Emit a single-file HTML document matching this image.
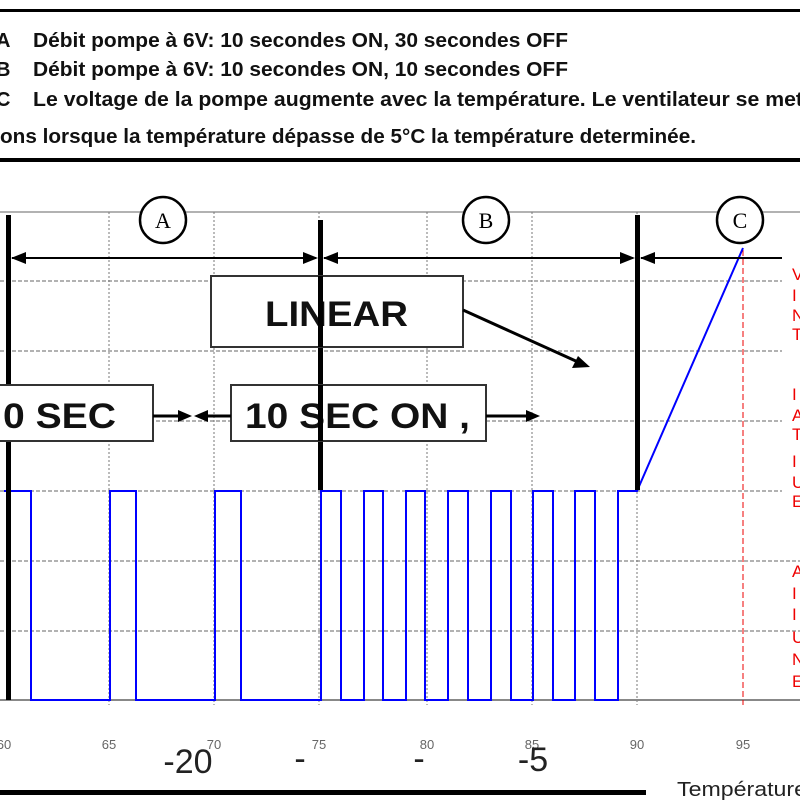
<!DOCTYPE html>
<html><head><meta charset="utf-8"><style>
html,body{margin:0;padding:0;background:#fff;}
svg{display:block;}
</style></head><body>
<svg width="800" height="800" xmlns="http://www.w3.org/2000/svg" font-family="Liberation Sans, sans-serif">
<rect width="800" height="800" fill="#fff"/>
<!-- header -->
<rect x="0" y="9" width="800" height="3" fill="#000"/>
<rect x="0" y="158" width="800" height="4" fill="#000"/>
<g font-weight="bold" font-size="20" fill="#111">
<text x="-4" y="47">A</text>
<text x="33" y="47" textLength="535" lengthAdjust="spacingAndGlyphs">Débit pompe à 6V: 10 secondes ON, 30 secondes OFF</text>
<text x="-4" y="76">B</text>
<text x="33" y="76" textLength="535" lengthAdjust="spacingAndGlyphs">Débit pompe à 6V: 10 secondes ON, 10 secondes OFF</text>
<text x="-4" y="106">C</text>
<text x="33" y="106" textLength="770" lengthAdjust="spacingAndGlyphs">Le voltage de la pompe augmente avec la température. Le ventilateur se met</text>
<text x="0" y="143" textLength="696" lengthAdjust="spacingAndGlyphs">ons lorsque la température dépasse de 5°C la température determinée.</text>
</g>
<!-- grid -->
<line x1="0" y1="212" x2="800" y2="212" stroke="#999" stroke-width="1.5"/>
<g stroke="#999" stroke-width="1.5" stroke-dasharray="4,2">
<line x1="0" y1="281" x2="782" y2="281"/>
<line x1="0" y1="351" x2="782" y2="351"/>
<line x1="0" y1="421" x2="782" y2="421"/>
<line x1="0" y1="491" x2="782" y2="491"/>
<line x1="0" y1="561" x2="800" y2="561"/>
<line x1="0" y1="631" x2="800" y2="631"/>
</g>
<g stroke="#777" stroke-width="1" stroke-dasharray="2,2">
<line x1="109" y1="212" x2="109" y2="705"/>
<line x1="214" y1="212" x2="214" y2="705"/>
<line x1="319" y1="212" x2="319" y2="705"/>
<line x1="427" y1="212" x2="427" y2="705"/>
<line x1="532" y1="212" x2="532" y2="705"/>
<line x1="637" y1="212" x2="637" y2="705"/>
</g>
<line x1="0" y1="700" x2="800" y2="700" stroke="#888" stroke-width="2"/>
<line x1="743" y1="250" x2="743" y2="705" stroke="#e00" stroke-width="1" stroke-dasharray="6,3"/>
<!-- red letters -->
<g fill="#e00" font-size="17">
<text x="792" y="280">V</text><text x="792" y="301">I</text><text x="792" y="321">N</text><text x="792" y="340">T</text>
<text x="792" y="400">I</text><text x="792" y="421">A</text><text x="792" y="440">T</text>
<text x="792" y="467">I</text><text x="792" y="488">U</text><text x="792" y="507">E</text>
<text x="792" y="577">A</text><text x="792" y="599">I</text><text x="792" y="620">I</text>
<text x="792" y="643">U</text><text x="792" y="665">N</text><text x="792" y="687">E</text>
</g>
<!-- blue wave -->
<polyline fill="none" stroke="#00f" stroke-width="2" points="4,491 31,491 31,700 110,700 110,491 136,491 136,700 215,700 215,491 241,491 241,700 321,700 321,491 341,491 341,700 364,700 364,491 383,491 383,700 406,700 406,491 425,491 425,700 448,700 448,491 468,491 468,700 491,700 491,491 511,491 511,700 533,700 533,491 553,491 553,700 575,700 575,491 595,491 595,700 618,700 618,491 637,491 743,248"/>
<!-- thick verticals -->
<rect x="6" y="215" width="5" height="485" fill="#000"/>
<rect x="318" y="220" width="5" height="270" fill="#000"/>
<rect x="635" y="215" width="5" height="275" fill="#000"/>
<!-- dimension arrows -->
<g stroke="#000" stroke-width="2">
<line x1="12" y1="258" x2="316" y2="258"/>
<line x1="324" y1="258" x2="633" y2="258"/>
<line x1="641" y1="258" x2="782" y2="258"/>
</g>
<g fill="#000">
<polygon points="11,258 26,252 26,264"/>
<polygon points="318,258 303,252 303,264"/>
<polygon points="323,258 338,252 338,264"/>
<polygon points="635,258 620,252 620,264"/>
<polygon points="640,258 655,252 655,264"/>
</g>
<!-- circles -->
<g fill="#fff" stroke="#000" stroke-width="2.5">
<circle cx="163" cy="220" r="23"/>
<circle cx="486" cy="220" r="23"/>
<circle cx="740" cy="220" r="23"/>
</g>
<g font-family="Liberation Serif, serif" font-size="22" text-anchor="middle" fill="#000">
<text x="163" y="228">A</text><text x="486" y="228">B</text><text x="740" y="228">C</text>
</g>
<!-- boxes -->
<g fill="#fff" stroke="#333" stroke-width="2">
<rect x="211" y="276" width="252" height="71"/>
<rect x="-5" y="385" width="158" height="56"/>
<rect x="231" y="385" width="255" height="56"/>
</g>
<g font-weight="bold" font-size="35" fill="#111">
<text x="265" y="326" textLength="143" lengthAdjust="spacingAndGlyphs">LINEAR</text>
<text x="3" y="428" textLength="113" lengthAdjust="spacingAndGlyphs">0 SEC</text>
<text x="245" y="428" textLength="225" lengthAdjust="spacingAndGlyphs">10 SEC ON ,</text>
</g>
<rect x="318" y="385" width="5" height="56" fill="#000"/>
<rect x="318" y="276" width="5" height="71" fill="#000"/>
<!-- small arrows -->
<g stroke="#000" stroke-width="3">
<line x1="153" y1="416" x2="180" y2="416"/>
<line x1="231" y1="416" x2="206" y2="416"/>
<line x1="486" y1="416" x2="528" y2="416"/>
<line x1="463" y1="310" x2="578" y2="362"/>
</g>
<g fill="#000">
<polygon points="192,416 178,410 178,422"/>
<polygon points="194,416 208,410 208,422"/>
<polygon points="540,416 526,410 526,422"/>
<polygon points="590,367 572,368 578,356"/>
</g>
<!-- axis labels -->
<g font-size="13" fill="#666" text-anchor="middle">
<text x="4" y="749">60</text><text x="109" y="749">65</text><text x="214" y="749">70</text><text x="319" y="749">75</text>
<text x="427" y="749">80</text><text x="532" y="749">85</text><text x="637" y="749">90</text><text x="743" y="749">95</text>
</g>
<g font-size="34" fill="#222" text-anchor="middle">
<text x="188" y="773">-20</text>
<text x="300" y="770">-</text>
<text x="419" y="770">-</text>
<text x="533" y="771">-5</text>
</g>
<rect x="0" y="790" width="646" height="5" fill="#000"/>
<text x="677" y="796" font-size="20" fill="#222" textLength="130" lengthAdjust="spacingAndGlyphs">Température</text>
</svg>
</body></html>
